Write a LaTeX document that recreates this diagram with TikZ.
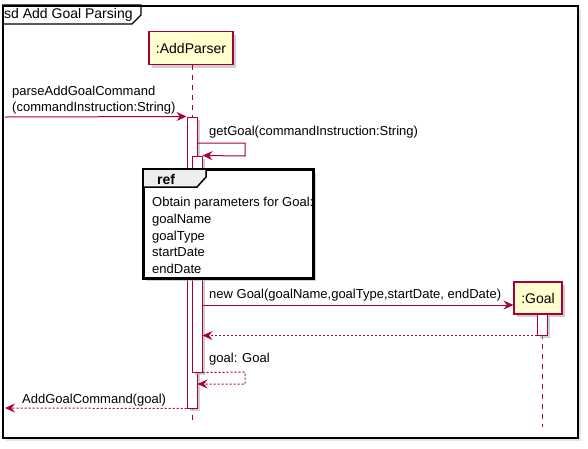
\documentclass[tikz,border=0pt]{standalone}
\usepackage{fontspec}
\setmainfont{Liberation Sans}
\usetikzlibrary{arrows.meta,shadows}
\definecolor{pumlred}{HTML}{A80036}
\definecolor{pumlfill}{HTML}{FEFECE}
\definecolor{tabgray}{HTML}{EEEEEE}
\begin{document}
\begin{tikzpicture}[x=1pt,y=-1pt,
  shadowed/.style={drop shadow={shadow xshift=3pt,shadow yshift=-3pt,fill=black!30,opacity=0.6}},
  lightshadow/.style={drop shadow={shadow xshift=3pt,shadow yshift=-3pt,fill=black!20,opacity=0.5}},
  part/.style={draw=pumlred,line width=1.2pt,fill=pumlfill,shadowed,inner sep=0pt,
    font=\fontsize{14}{16}\selectfont},
  act/.style={draw=pumlred,line width=1pt,fill=white,shadowed,inner sep=0pt,minimum width=10pt},
  lifeline/.style={draw=pumlred,line width=0.8pt,dash pattern=on 5pt off 5pt},
  msg/.style={draw=pumlred,line width=1pt,-{Stealth[length=10pt,width=9pt,inset=3.5pt]}},
  ret/.style={msg,dash pattern=on 2pt off 2pt},
  lbl/.style={anchor=west,inner sep=0pt,font=\fontsize{13}{16}\selectfont,align=left}]
\useasboundingbox (0,0) rectangle (588,448);
% frame
\node[draw=black,line width=1.5pt,fill=white,lightshadow,anchor=north west,inner sep=0pt,
  minimum width=575pt,minimum height=432pt] (frame) at (2,5) {};
\draw[line width=1.2pt] (frame.north west) -- (141,5) -- (141,15) -- (132,24) -- (2,24);
\node[anchor=west,inner sep=0pt,font=\fontsize{14}{16}\selectfont] (title) at (4,15) {sd Add Goal Parsing};
% participants
\node[part,minimum width=84pt,minimum height=33pt] (ap) at (191,48) {:AddParser};
\node[part,minimum width=48pt,minimum height=32pt] (g) at (538,298) {:Goal};
\coordinate (apEnd) at (192,424);
\coordinate (apTop) at (192,64.5);
\coordinate (gTop) at (542,314);
\coordinate (gEnd) at (542,427);
\draw[lifeline] (apTop) -- (apEnd);
\draw[lifeline] (gTop) -- (gEnd);
% activations
\node[act,minimum height=291pt] (a1) at (192,262.5) {};
\node[act,minimum height=216pt] (a2) at (197,264) {};
\node[act,minimum height=21pt] (a3) at (542,324.5) {};
% incoming
\coordinate (inStart) at (5,117);
\draw[msg] (inStart) -- (a1.north west);
\node[lbl] (t1) at (12,100) {parseAddGoalCommand\\(commandInstruction:String)};
% self call
\coordinate (s1) at (245,143);
\coordinate (s2) at (245,156);
\draw[msg] (a1.east |- s1) -- (s1) -- (s2) -- (a2.north east);
\node[lbl] (t2) at (209,132) {getGoal(commandInstruction:String)};
% ref box
\node[draw=black,line width=2pt,fill=white,shadowed,anchor=north west,inner sep=0pt,
  minimum width=169pt,minimum height=108pt] (ref) at (143,169) {};
\filldraw[fill=tabgray,draw=black,line width=1.5pt] (ref.north west) -- (206,169) -- (206,177) -- (197,187) -- (143,187) -- cycle;
\draw[line width=2pt] (ref.north west) rectangle (ref.south east);
\node[anchor=center,inner sep=0pt,font=\fontsize{14}{16}\selectfont\bfseries] (reft) at (166,179) {ref};
\node[anchor=west,inner sep=0pt,align=left,font=\fontsize{13}{16.7}\selectfont] (refb) at (152,235.5)
  {Obtain parameters for Goal:\\goalName\\goalType\\startDate\\endDate};
% create
\coordinate (m2) at (0,305);
\draw[msg] (a2.east |- m2) -- (g.west |- m2);
\node[lbl] (t3) at (209,295) {new Goal(goalName,goalType,startDate, endDate)};
% return from Goal
\draw[ret] (a3.south west) -- (a2.east |- a3.south west);
% self return
\coordinate (r1) at (245,372);
\coordinate (r2) at (245,384);
\draw[ret] (a2.south east) -- (r1) -- (r2) -- (a1.east |- r2);
\node[lbl] (t4) at (209,359) {goal: Goal};
% final return
\coordinate (outEnd) at (5,408);
\draw[ret] (a1.south west) -- (outEnd);
\node[lbl] (t5) at (22,400) {AddGoalCommand(goal)};
\end{tikzpicture}
\end{document}
